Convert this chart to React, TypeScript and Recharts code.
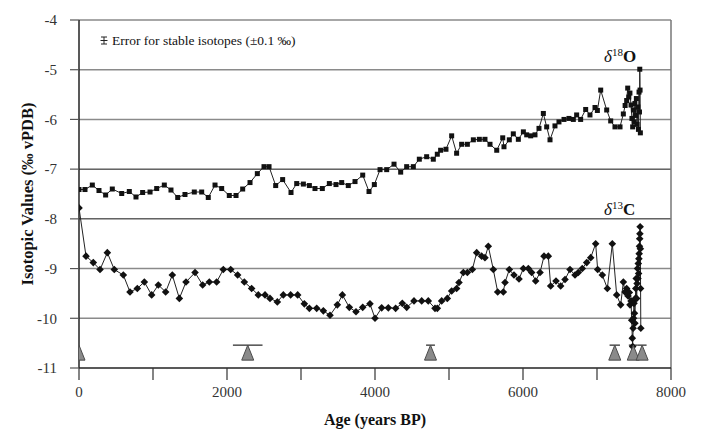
import React from 'react';
import { ComposedChart, Line, Scatter, XAxis, YAxis, ReferenceLine, ErrorBar } from 'recharts';

const SERIF = 'Liberation Serif, Times New Roman, serif';

// δ18O record (age in years BP, value in ‰ vPDB)
const d18OAge = [0, 81, 180, 270, 360, 450, 577, 680, 770, 860, 960, 1050, 1153, 1243, 1334, 1432, 1558, 1658, 1747, 1838, 1928, 2031, 2122, 2212, 2311, 2410, 2500, 2568, 2658, 2752, 2865, 2942, 3032, 3113, 3189, 3288, 3383, 3473, 3550, 3639, 3730, 3834, 3919, 3991, 4068, 4158, 4257, 4347, 4428, 4518, 4599, 4698, 4788, 4842, 4887, 4959, 5036, 5103, 5171, 5248, 5329, 5410, 5486, 5554, 5645, 5726, 5743, 5815, 5869, 5937, 6005, 6050, 6104, 6162, 6216, 6275, 6320, 6365, 6432, 6486, 6554, 6621, 6680, 6725, 6779, 6847, 6905, 6973, 7005, 7050, 7131, 7185, 7243, 7311, 7356, 7380, 7401, 7415, 7430, 7445, 7460, 7472, 7482, 7492, 7502, 7512, 7522, 7532, 7542, 7552, 7560, 7568, 7574, 7578, 7582, 7586];
const d18OVal = [-7.41, -7.41, -7.32, -7.43, -7.52, -7.40, -7.49, -7.45, -7.56, -7.47, -7.46, -7.39, -7.32, -7.42, -7.57, -7.51, -7.46, -7.46, -7.57, -7.32, -7.39, -7.53, -7.53, -7.40, -7.27, -7.09, -6.95, -6.95, -7.33, -7.21, -7.47, -7.29, -7.30, -7.33, -7.39, -7.39, -7.29, -7.31, -7.27, -7.33, -7.25, -7.12, -7.45, -7.31, -7.01, -7.01, -6.90, -7.06, -6.95, -6.95, -6.80, -6.75, -6.80, -6.70, -6.62, -6.60, -6.33, -6.68, -6.50, -6.50, -6.41, -6.40, -6.40, -6.50, -6.62, -6.37, -6.55, -6.41, -6.29, -6.40, -6.25, -6.31, -6.33, -6.31, -6.18, -5.88, -6.15, -6.41, -6.13, -6.05, -6.00, -5.98, -6.00, -5.91, -6.00, -5.80, -5.91, -5.76, -5.82, -5.41, -5.81, -6.03, -6.15, -6.15, -5.89, -5.72, -5.62, -5.37, -5.55, -5.47, -5.71, -5.98, -6.15, -5.81, -6.05, -5.68, -5.92, -5.58, -6.10, -5.75, -6.20, -5.45, -5.85, -4.99, -5.41, -6.27];

// δ13C record
const d13CAge = [0, 95, 193, 284, 383, 477, 599, 689, 788, 883, 982, 1072, 1171, 1261, 1356, 1446, 1568, 1671, 1761, 1860, 1950, 2050, 2144, 2234, 2333, 2423, 2514, 2581, 2680, 2761, 2860, 2955, 3045, 3113, 3212, 3302, 3392, 3491, 3559, 3653, 3743, 3834, 3932, 4000, 4090, 4180, 4279, 4369, 4428, 4527, 4631, 4720, 4811, 4842, 4901, 4977, 5036, 5103, 5135, 5194, 5248, 5315, 5374, 5441, 5486, 5531, 5599, 5658, 5734, 5757, 5815, 5878, 5946, 6005, 6072, 6117, 6171, 6230, 6284, 6342, 6374, 6446, 6509, 6568, 6635, 6703, 6747, 6801, 6861, 6915, 6982, 7009, 7072, 7140, 7207, 7266, 7320, 7356, 7378, 7401, 7420, 7437, 7446, 7460, 7469, 7477, 7482, 7488, 7494, 7500, 7506, 7512, 7518, 7524, 7530, 7536, 7542, 7548, 7553, 7558, 7562, 7566, 7570, 7574, 7577, 7580, 7583, 7586, 7589, 7592];
const d13CVal = [-7.78, -8.75, -8.88, -9.02, -8.68, -9.02, -9.13, -9.47, -9.40, -9.27, -9.53, -9.33, -9.47, -9.13, -9.60, -9.27, -9.08, -9.33, -9.27, -9.27, -9.02, -9.02, -9.13, -9.27, -9.40, -9.53, -9.53, -9.60, -9.67, -9.53, -9.53, -9.53, -9.71, -9.80, -9.80, -9.85, -9.94, -9.73, -9.53, -9.78, -9.87, -9.78, -9.71, -10.00, -9.79, -9.79, -9.80, -9.70, -9.78, -9.65, -9.65, -9.65, -9.80, -9.80, -9.65, -9.60, -9.45, -9.40, -9.28, -9.08, -9.08, -9.02, -8.68, -8.75, -8.78, -8.55, -9.02, -9.47, -9.47, -9.28, -9.02, -9.13, -9.21, -9.00, -9.00, -9.08, -9.25, -9.08, -8.75, -8.75, -9.35, -9.25, -9.35, -9.22, -9.02, -9.13, -9.08, -9.00, -8.88, -8.78, -8.50, -9.02, -9.13, -9.40, -8.50, -9.53, -9.73, -9.27, -9.47, -9.40, -9.55, -9.48, -9.73, -9.65, -10.04, -10.40, -10.57, -10.20, -10.00, -9.70, -9.90, -10.10, -9.60, -9.40, -9.20, -9.60, -9.30, -9.00, -9.20, -8.90, -9.10, -8.80, -8.70, -8.55, -8.40, -8.30, -8.16, -8.60, -9.40, -10.20];

// Radiocarbon dating positions with age uncertainty
const datingAge = [0, 2280, 4750, 7240, 7490, 7610];
const datingErr = [0, 200, 60, 70, 60, 60];
const datingLevel = -10.54;

const yTicks = [-11, -10, -9, -8, -7, -6, -5, -4];
const xTicks = [0, 1000, 2000, 3000, 4000, 5000, 6000, 7000, 8000];
const grayGrid = [-10, -9, -6, -5, -4];
const blackGrid = [-8, -7];

const d18O = d18OAge.map((a, i) => ({ age: a, v: d18OVal[i] }));
const d13C = d13CAge.map((a, i) => ({ age: a, v: d13CVal[i] }));
const dating = datingAge.map((a, i) => ({ age: a, y: datingLevel, err: datingErr[i] }));

const SquareDot = (p: any) => {
  if (p.cx == null || p.cy == null) return <g key={p.index} />;
  return <rect key={`s${p.index}`} x={p.cx - 2.5} y={p.cy - 2.5} width={5} height={5} fill="#111" />;
};

const DiamondDot = (p: any) => {
  if (p.cx == null || p.cy == null) return <g key={p.index} />;
  const { cx, cy } = p;
  return <polygon key={`d${p.index}`} points={`${cx},${cy - 3.8} ${cx + 3.8},${cy} ${cx},${cy + 3.8} ${cx - 3.8},${cy}`} fill="#111" />;
};

const Tri = (p: any) => {
  const { cx, cy } = p;
  if (cx == null || cy == null) return <g />;
  return <polygon points={`${cx},${cy} ${cx - 6},${cy + 15} ${cx + 6},${cy + 15}`} fill="#8a8a8a" stroke="#4a4a4a" strokeWidth={1} />;
};

export default function App() {
  return (
    <div style={{ position: 'relative', width: 693, height: 427, fontFamily: SERIF }}>
      <ComposedChart width={693} height={427} margin={{ top: 12, right: 30, left: 0, bottom: 0 }}>
        {grayGrid.map((v) => (
          <ReferenceLine key={`g${v}`} y={v} stroke="#8a8a8a" strokeWidth={1.6} />
        ))}
        {blackGrid.map((v) => (
          <ReferenceLine key={`b${v}`} y={v} stroke="#111" strokeWidth={1} />
        ))}
        <ReferenceLine x={8000} stroke="#777" strokeWidth={1.5} />
        <XAxis
          type="number"
          dataKey="age"
          domain={[0, 8000]}
          ticks={xTicks}
          interval={0}
          allowDataOverflow
          tickFormatter={(v: number) => (v % 2000 === 0 ? String(v) : '')}
          tickSize={12}
          tickMargin={6}
          height={67}
          axisLine={{ stroke: '#222', strokeWidth: 1.5 }}
          tickLine={{ stroke: '#333', strokeWidth: 1.2 }}
          tick={{ fill: '#333', fontSize: 15, fontFamily: SERIF }}
          label={{ value: 'Age (years BP)', position: 'insideBottom', offset: 10, style: { fontFamily: SERIF, fontWeight: 'bold', fontSize: 16, fill: '#111' } }}
        />
        <YAxis
          type="number"
          domain={[-11, -4]}
          ticks={yTicks}
          interval={0}
          allowDataOverflow
          width={71}
          tickSize={9}
          tickMargin={13}
          axisLine={{ stroke: '#222', strokeWidth: 1.5 }}
          tickLine={{ stroke: '#555', strokeWidth: 1.2 }}
          tick={{ fill: '#333', fontSize: 15, fontFamily: SERIF }}
          label={{ value: 'Isotopic Values (‰ vPDB)', angle: -90, position: 'insideLeft', offset: 19, style: { textAnchor: 'middle', fontFamily: SERIF, fontWeight: 'bold', fontSize: 16.5, fill: '#111' } }}
        />
        <Line data={d18O} dataKey="v" stroke="#222" strokeWidth={1} dot={SquareDot} activeDot={false} isAnimationActive={false} />
        <Line data={d13C} dataKey="v" stroke="#222" strokeWidth={1} dot={DiamondDot} activeDot={false} isAnimationActive={false} />
        <Scatter data={dating} dataKey="y" shape={Tri} isAnimationActive={false}>
          <ErrorBar dataKey="err" direction="x" width={0} stroke="#222" strokeWidth={1.2} isAnimationActive={false} />
        </Scatter>
      </ComposedChart>
      <svg width={693} height={427} style={{ position: 'absolute', left: 0, top: 0, pointerEvents: 'none' }}>
        <g stroke="#222" strokeWidth={1}>
          <line x1={96} y1={29} x2={96} y2={36} />
          <line x1={93} y1={29} x2={99} y2={29} />
          <line x1={93} y1={36} x2={99} y2={36} />
          <line x1={92.5} y1={32.5} x2={99.5} y2={32.5} />
        </g>
        <text x={104} y={37} fontFamily={SERIF} fontSize={13.5} fill="#111">Error for stable isotopes (±0.1 ‰)</text>
        <text x={596} y={54} fontFamily={SERIF} fill="#111">
          <tspan fontStyle="italic" fontSize={17}>δ</tspan>
          <tspan fontSize={11} dy={-6}>18</tspan>
          <tspan fontSize={17} fontWeight="bold" dy={6}>O</tspan>
        </text>
        <text x={596} y={207} fontFamily={SERIF} fill="#111">
          <tspan fontStyle="italic" fontSize={17}>δ</tspan>
          <tspan fontSize={11} dy={-6}>13</tspan>
          <tspan fontSize={17} fontWeight="bold" dy={6}>C</tspan>
        </text>
      </svg>
    </div>
  );
}
